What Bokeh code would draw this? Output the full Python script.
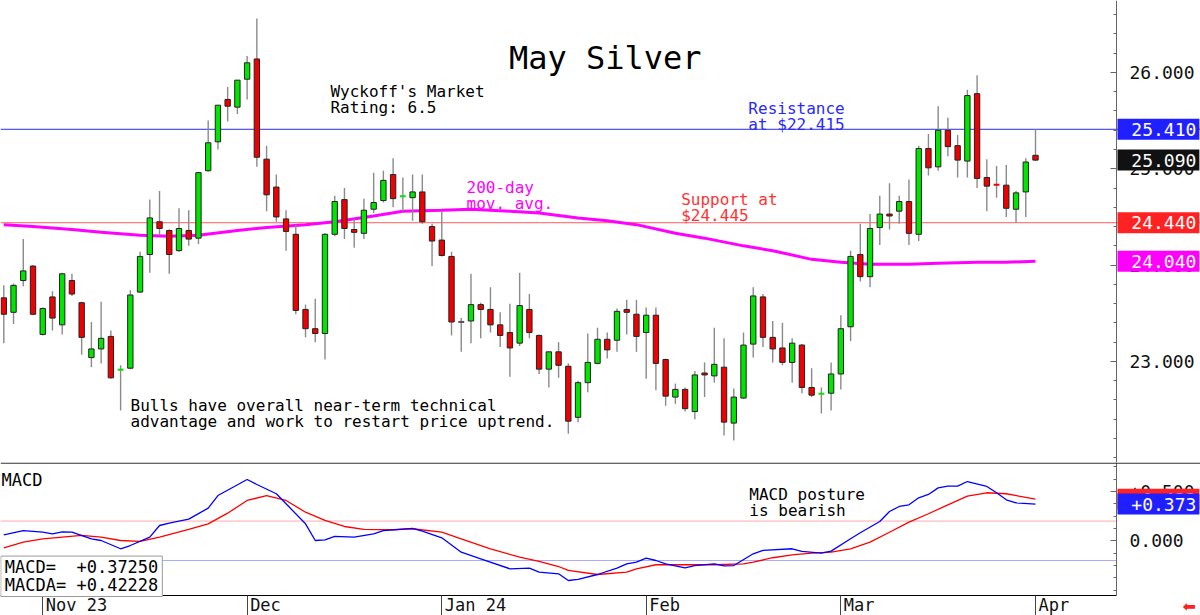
from bokeh.plotting import figure
from bokeh.models import (Range1d, FixedTicker, NumeralTickFormatter, CustomJSTickFormatter,
                          Label, Span, ColumnDataSource, LinearAxis)
from bokeh.layouts import column
from bokeh.embed import file_html
from bokeh.resources import INLINE

# ---------------- data ----------------
opens = [23.66, 23.51, 23.84, 23.99, 23.28, 23.67, 23.38, 23.84, 23.61, 23.04,
         23.13, 23.26, 22.91, 22.93, 23.72, 24.11, 24.45, 24.36, 24.15, 24.36,
         24.28, 24.98, 25.28, 25.72, 25.64, 25.93, 26.14, 25.10, 24.81, 24.48,
         24.32, 23.54, 23.34, 23.29, 24.32, 24.68, 24.37, 24.33, 24.58, 24.67,
         24.94, 24.71, 24.70, 24.76, 24.40, 24.26, 24.09, 23.41, 23.42, 23.59,
         23.54, 23.38, 23.30, 23.19, 23.54, 23.27, 22.92, 23.10, 22.95, 22.42,
         22.78, 22.98, 23.23, 23.22, 23.54, 23.49, 23.30, 23.48, 23.02, 22.63,
         22.71, 22.48, 22.88, 22.85, 22.94, 22.36, 22.62, 23.18, 23.67, 23.25,
         23.14, 22.99, 23.17, 22.73, 22.66, 22.67, 22.87, 23.36, 24.11, 23.88,
         24.39, 24.53, 24.56, 24.66, 24.32, 25.21, 25.02, 25.40, 25.24, 25.08,
         25.78, 24.91, 24.84, 24.83, 24.58, 24.76, 25.14]
highs = [23.79, 23.81, 24.27, 24.00, 23.56, 23.73, 23.92, 23.91, 23.62, 23.41,
         23.62, 23.32, 22.96, 23.74, 24.14, 24.68, 24.77, 24.37, 24.59, 24.57,
         24.97, 25.50, 25.66, 25.85, 25.92, 26.17, 26.56, 25.24, 24.94, 24.57,
         24.42, 23.59, 23.65, 24.33, 24.72, 24.80, 24.48, 24.69, 24.96, 24.98,
         25.11, 24.91, 24.94, 24.94, 24.43, 24.56, 24.14, 23.45, 23.91, 23.61,
         23.77, 23.51, 23.60, 23.92, 23.70, 23.28, 23.10, 23.20, 22.98, 22.80,
         23.29, 23.35, 23.30, 23.55, 23.64, 23.64, 23.56, 23.56, 23.03, 22.77,
         22.73, 22.90, 22.99, 23.35, 23.24, 22.72, 23.30, 23.77, 23.70, 23.42,
         23.40, 23.24, 23.18, 22.93, 22.73, 22.99, 23.48, 24.15, 24.43, 24.53,
         24.72, 24.85, 24.72, 24.89, 25.24, 25.36, 25.65, 25.53, 25.35, 25.82,
         25.97, 25.10, 25.03, 25.04, 24.77, 25.11, 25.41]
lows = [23.19, 23.39, 23.78, 23.48, 23.27, 23.32, 23.28, 23.68, 23.07, 22.94,
        22.98, 22.82, 22.49, 22.92, 23.71, 23.92, 24.31, 23.91, 24.14, 24.20,
        24.22, 24.97, 25.20, 25.49, 25.57, 25.72, 25.02, 24.56, 24.45, 24.15,
        23.49, 23.25, 23.20, 23.02, 24.30, 24.27, 24.18, 24.27, 24.54, 24.65,
        24.60, 24.56, 24.46, 24.43, 23.99, 24.09, 23.27, 23.10, 23.19, 23.24,
        23.30, 23.15, 22.84, 23.16, 23.24, 22.87, 22.73, 22.83, 22.25, 22.37,
        22.68, 22.97, 23.03, 23.10, 23.28, 23.10, 22.82, 22.70, 22.54, 22.56,
        22.48, 22.40, 22.63, 22.78, 22.23, 22.18, 22.61, 23.04, 23.15, 22.99,
        22.96, 22.78, 22.67, 22.63, 22.46, 22.49, 22.71, 23.21, 23.83, 23.77,
        24.21, 24.37, 24.43, 24.21, 24.25, 24.93, 24.98, 25.13, 24.91, 24.91,
        24.80, 24.56, 24.70, 24.50, 24.44, 24.50, 25.08]
closes = [23.49, 23.79, 23.94, 23.49, 23.55, 23.45, 23.91, 23.70, 23.25, 23.13,
          23.24, 22.83, 22.92, 23.69, 24.09, 24.49, 24.38, 24.11, 24.38, 24.27,
          24.96, 25.27, 25.66, 25.65, 25.92, 26.10, 25.12, 24.73, 24.50, 24.35,
          23.53, 23.34, 23.29, 24.32, 24.66, 24.38, 24.34, 24.57, 24.65, 24.88,
          24.69, 24.72, 24.76, 24.45, 24.25, 24.10, 23.41, 23.41, 23.59, 23.54,
          23.38, 23.27, 23.14, 23.58, 23.30, 22.92, 23.10, 22.96, 22.38, 22.78,
          22.99, 23.23, 23.12, 23.52, 23.51, 23.26, 23.48, 22.98, 22.64, 22.71,
          22.51, 22.86, 22.86, 22.97, 22.37, 22.63, 23.17, 23.68, 23.25, 23.13,
          22.99, 23.19, 22.73, 22.65, 22.67, 22.87, 23.34, 24.09, 23.88, 24.38,
          24.53, 24.51, 24.66, 24.33, 25.21, 25.01, 25.40, 25.23, 25.09, 25.76,
          24.90, 24.82, 24.83, 24.59, 24.75, 25.07, 25.09]

# 200-day moving average, read at sampled sessions
ma_idx = [0, 3, 7, 10, 14, 17, 20, 24, 27, 31, 34, 38, 41, 45, 48, 52, 55, 59,
          62, 65, 69, 72, 76, 79, 83, 86, 89, 93, 96, 100, 103, 106]
ma_val = [24.42, 24.40, 24.37, 24.34, 24.31, 24.30, 24.31, 24.36, 24.39, 24.42,
          24.45, 24.51, 24.56, 24.57, 24.58, 24.56, 24.54, 24.49, 24.46, 24.42,
          24.33, 24.28, 24.20, 24.15, 24.06, 24.03, 24.01, 24.01, 24.02, 24.03,
          24.03, 24.04]

# MACD (blue) and its average (red), read at sampled sessions
macd_idx = [0, 2, 4, 5, 6, 7, 9, 10, 12, 13, 15, 16, 17, 19, 21, 22, 25, 26, 28,
            29, 31, 32, 33, 34, 36, 38, 39, 42, 43, 45, 47, 49, 52, 54, 55, 57,
            58, 59, 61, 63, 64, 65, 66, 67, 68, 70, 71, 73, 74, 75, 77, 78, 81,
            82, 84, 85, 87, 88, 90, 91, 92, 93, 94, 95, 96, 97, 98, 99, 101,
            102, 103, 104, 106]
macd_val = [0.061, 0.104, 0.087, 0.071, 0.091, 0.087, 0.020, 0.003, -0.081,
            -0.048, 0.037, 0.155, 0.179, 0.219, 0.331, 0.459, 0.622, 0.571,
            0.477, 0.375, 0.172, 0.003, 0.010, 0.044, 0.037, 0.071, 0.104,
            0.125, 0.097, 0.030, -0.116, -0.183, -0.284, -0.278, -0.318,
            -0.335, -0.403, -0.392, -0.342, -0.278, -0.234, -0.217, -0.176,
            -0.200, -0.234, -0.274, -0.251, -0.234, -0.254, -0.251, -0.132,
            -0.098, -0.081, -0.108, -0.126, -0.105, 0.020, 0.081, 0.196, 0.297,
            0.348, 0.365, 0.436, 0.470, 0.537, 0.554, 0.554, 0.601, 0.551,
            0.487, 0.416, 0.385, 0.37250]
macda_idx = [0, 2, 4, 6, 8, 10, 12, 14, 16, 19, 21, 23, 25, 27, 29, 31, 33, 35,
             37, 40, 42, 45, 47, 50, 53, 55, 57, 58, 61, 64, 65, 67, 69, 71, 73,
             76, 77, 79, 81, 83, 85, 87, 89, 91, 93, 95, 97, 99, 101, 103, 105,
             106]
macda_val = [-0.071, -0.014, 0.020, 0.037, 0.054, 0.037, 0.003, -0.007, 0.037,
             0.115, 0.172, 0.280, 0.409, 0.459, 0.409, 0.290, 0.206, 0.145,
             0.115, 0.112, 0.122, 0.087, 0.020, -0.081, -0.166, -0.210, -0.261,
             -0.301, -0.342, -0.318, -0.284, -0.243, -0.243, -0.243, -0.243,
             -0.234, -0.217, -0.172, -0.142, -0.126, -0.116, -0.081, -0.014,
             0.087, 0.189, 0.274, 0.365, 0.452, 0.487, 0.477, 0.440, 0.42228]

resistance = 25.41
support = 24.44
macd_bands = [0.2, -0.2]

month_idx = [4, 25, 45, 66, 86, 106]
month_lbl = ["Nov 23", "Dec", "Jan 24", "Feb", "Mar", "Apr"]

price_ticks = [23, 24, 25, 26]
macd_ticks = [0.0, 0.5]

# ---------------- style / geometry ----------------
MONO = "DejaVu Sans Mono"
GREEN = "#00e600"
RED = "#f00000"
MAG = "#ff00ff"
BLUE = "#2a2aff"
N = len(opens)
PX = 9.733                      # pixels per session
X0 = -3.3 / PX
XR = Range1d(X0, X0 + 1200 / PX)
AX = X0 + 1116 / PX            # where the value axes stand
MACD_LO, MACD_HI = -0.555, 0.794   # visible MACD window (above the date axis)
MACD_PX = 133 / (MACD_HI - MACD_LO)


def fmt3(v):
    return f"{v + (1e-9 if v >= 0 else -1e-9):.3f}"


def setup(fig):
    fig.grid.visible = False
    fig.background_fill_color = "white"
    fig.border_fill_color = "white"
    fig.outline_line_color = None


def value_axis(fig, ticks, minor, fmt, bounds=None):
    ax = LinearAxis(fixed_location=AX, ticker=FixedTicker(ticks=ticks, minor_ticks=minor),
                    formatter=fmt)
    if bounds is not None:
        ax.bounds = bounds
    ax.major_label_text_font = MONO
    ax.major_label_text_font_size = "18px"
    ax.major_label_text_color = "#111111"
    ax.major_tick_in = 6
    ax.major_tick_out = 0
    ax.minor_tick_in = 3
    ax.minor_tick_out = 0
    ax.major_label_standoff = 13
    ax.axis_line_color = "#666666"
    ax.major_tick_line_color = "#666666"
    ax.minor_tick_line_color = "#666666"
    fig.add_layout(ax, "right")
    return ax


def note(fig, x, y, text, color="black", size="16px", align="left"):
    fig.add_layout(Label(x=x, y=y, text=text, text_color=color,
                         text_font=MONO, text_font_size=size,
                         text_align=align, text_baseline="alphabetic"))


def tag(fig, y, text, bg):
    fig.add_layout(Label(x=AX + 1.0 / PX, y=y, text="\u00a0" + text, text_color="white",
                         text_font=MONO, text_font_size="18px", text_align="left",
                         text_baseline="middle", background_fill_color=bg,
                         padding=(3, 0)))


# ---------------- main price panel ----------------
p = figure(frame_width=1200, frame_height=462, x_range=XR,
           y_range=Range1d(21.951, 26.747), output_backend="svg",
           toolbar_location=None, x_axis_location=None, y_axis_location=None,
           min_border=0)
setup(p)

p.add_layout(Span(location=resistance, dimension="width", line_color=BLUE,
                  line_width=1, level="underlay"))
p.add_layout(Span(location=support, dimension="width", line_color="#ff5a5a",
                  line_width=1, level="underlay"))

p.line(ma_idx, ma_val, line_color=MAG, line_width=3)

xs = list(range(N))
p.segment(x0=xs, y0=lows, x1=xs, y1=highs, line_color="#8a8a8a", line_width=1.4)

body = {"x": [], "top": [], "bot": [], "col": []}
dash = {"x": [], "y": [], "col": []}
for i in range(N):
    o, c = opens[i], closes[i]
    if abs(c - o) <= 0.011:
        dash["x"].append(i)
        dash["y"].append((o + c) / 2)
        dash["col"].append(GREEN if c > o else (RED if c < o else "#555555"))
    else:
        body["x"].append(i)
        body["top"].append(max(o, c))
        body["bot"].append(min(o, c))
        body["col"].append(GREEN if c > o else RED)
p.vbar(x="x", top="top", bottom="bot", width=0.55, fill_color="col",
       line_color="#222222", line_width=1, source=ColumnDataSource(body))
dsrc = ColumnDataSource({"x0": [x - 0.3 for x in dash["x"]],
                         "x1": [x + 0.3 for x in dash["x"]],
                         "y": dash["y"], "col": dash["col"]})
p.segment(x0="x0", y0="y", x1="x1", y1="y", line_color="col", line_width=2,
          source=dsrc)

value_axis(p, price_ticks, [round(21.8 + 0.2 * k, 1) for k in range(26)],
           NumeralTickFormatter(format="0.000"))

note(p, 61.8, 26.155, "May Silver", size="32px", align="center")
note(p, 33.56, 25.802, "Wyckoff's Market")
note(p, 33.56, 25.636, "Rating: 6.5")
note(p, 76.5, 25.626, "Resistance", color="#2a2aff")
note(p, 76.5, 25.459, "at $22.415", color="#2a2aff")
note(p, 69.6, 24.681, "Support at", color="#ff3333")
note(p, 69.6, 24.514, "$24.445", color="#ff3333")
note(p, 47.54, 24.805, "200-day", color=MAG)
note(p, 47.54, 24.639, "mov. avg.", color=MAG)
note(p, 13.02, 22.541, "Bulls have overall near-term technical")
note(p, 13.02, 22.375, "advantage and work to restart price uptrend.")

tag(p, resistance, fmt3(resistance), "#1f1fff")
tag(p, closes[-1], fmt3(closes[-1]), "#111111")
tag(p, support, fmt3(support), "#ff2222")
tag(p, ma_val[-1], fmt3(ma_val[-1]), MAG)

# ---------------- MACD panel ----------------
m = figure(frame_width=1200, frame_height=153, x_range=XR,
           y_range=Range1d(MACD_LO - 20 / MACD_PX, MACD_HI), output_backend="svg",
           toolbar_location=None, x_axis_location=None, y_axis_location=None,
           min_border=0)
setup(m)

m.add_layout(Span(location=MACD_HI - 0.6 / MACD_PX, dimension="width",
                  line_color="black", line_width=1))
m.segment(x0=[X0] * len(macd_bands), x1=[AX] * len(macd_bands),
          y0=macd_bands, y1=macd_bands, line_color=["#ffaaaa", "#aaaaff"], line_width=1)

m.line(macda_idx, macda_val, line_color="#ff0000", line_width=1.3)
m.line(macd_idx, macd_val, line_color="#0000ff", line_width=1.3)

value_axis(m, macd_ticks, [round(-0.5 + 0.125 * k, 3) for k in range(11)],
           CustomJSTickFormatter(code="return tick > 0 ? '+' + tick.toFixed(3) : tick.toFixed(3);"),
           bounds=(MACD_LO, MACD_HI))

# month axis: tick lines at first session of each month, labels to their right
lab_w = [len(s) * 10.24 for s in month_lbl]
lab_pos = [mi + (w / 2 + 3) / PX for mi, w in zip(month_idx, lab_w)]
mx = LinearAxis(fixed_location=MACD_LO, bounds=(X0, AX),
                ticker=FixedTicker(ticks=lab_pos, minor_ticks=month_idx))
mx.major_label_overrides = {lp: s for lp, s in zip(lab_pos, month_lbl)}
mx.major_tick_out = 0
mx.major_tick_in = 0
mx.minor_tick_out = 20
mx.minor_tick_in = 0
mx.minor_tick_line_color = "#444444"
mx.axis_line_color = "black"
mx.major_label_standoff = -21
mx.major_label_text_font = MONO
mx.major_label_text_font_size = "17px"
mx.major_label_text_color = "#111111"
m.add_layout(mx, "below")

note(m, -0.24, 0.612, "MACD", size="17px")
note(m, 76.6, 0.470, "MACD posture")
note(m, 76.6, 0.307, "is bearish")
m.add_layout(Label(x=X0 + 0.3 / PX, y=MACD_LO - 1.0 / MACD_PX,
                   text=f"MACD=\u00a0\u00a0{macd_val[-1]:+.5f}\nMACDA=\u00a0{macda_val[-1]:+.5f}",
                   text_font=MONO, text_font_size="17px", text_color="black",
                   text_align="left", text_baseline="bottom",
                   text_line_height=0.92, background_fill_color="white",
                   border_line_color="#999999", padding=(4, 1)))

tag(m, macda_val[-1], "+" + fmt3(macda_val[-1]), "#ff2222")
tag(m, macd_val[-1], "+" + fmt3(macd_val[-1]), "#1f1fff")
m.add_layout(Label(x=X0 + 1182 / PX, y=MACD_LO - 11 / MACD_PX, text="\u2b05",
                   text_color="#ff2020", text_font="DejaVu Sans", text_font_size="16px",
                   text_align="left", text_baseline="middle"))

layout = column(p, m, spacing=0)
open("out.html", "w").write(file_html(layout, INLINE))
